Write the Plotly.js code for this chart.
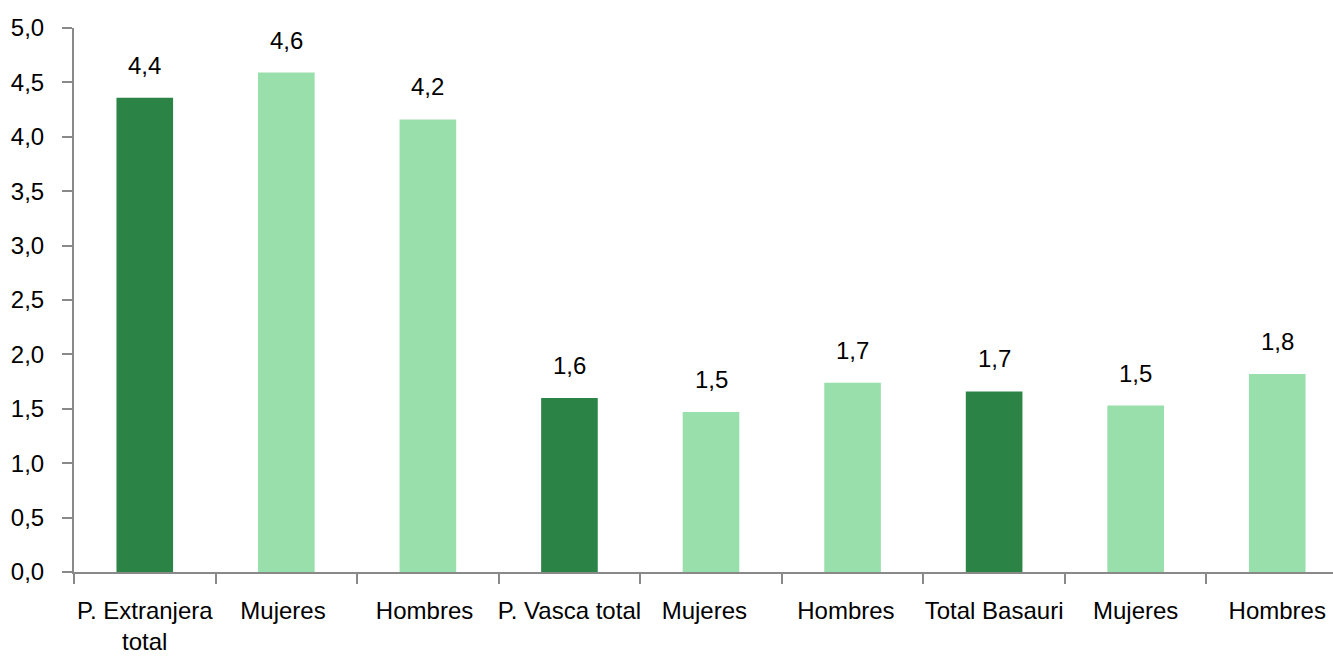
<!DOCTYPE html>
<html>
<head>
<meta charset="utf-8">
<script src="https://cdn.plot.ly/plotly-3.0.1.min.js"></script>
<style>html,body{margin:0;padding:0;background:#fff;overflow:hidden}#chart{width:1333px;height:661px}</style>
</head>
<body>
<div id="chart"></div>
<script>
const categories = ["P. Extranjera<br>total", "Mujeres ", "Hombres ", "P. Vasca total", "Mujeres  ", "Hombres  ", "Total Basauri", "Mujeres", "Hombres"];
const values = [4.36, 4.59, 4.16, 1.60, 1.47, 1.74, 1.66, 1.53, 1.82];
const groups = ["total", "sub", "sub", "total", "sub", "sub", "total", "sub", "sub"];
const yTicks = [0, 0.5, 1, 1.5, 2, 2.5, 3, 3.5, 4, 4.5, 5];

const DARK = "#2B8446", LIGHT = "#99DFAB";
const FONT = "'Liberation Sans', Arial, sans-serif";
const FS = 24;

const trace = {
  type: "bar",
  x: categories,
  y: values,
  width: 0.4,
  marker: {color: groups.map(g => g === "total" ? DARK : LIGHT)},
  hoverinfo: "skip"
};

const annotations = categories.map((c, i) => ({
  x: c, y: values[i], xref: "x", yref: "y",
  text: values[i].toFixed(1).replace(".", ","),
  showarrow: false, yanchor: "bottom", yshift: 17,
  font: {family: FONT, size: FS, color: "#000"}
}));

const layout = {
  width: 1333, height: 661,
  margin: {l: 74, r: 0, t: 28, b: 89},
  paper_bgcolor: "#fff", plot_bgcolor: "#fff",
  separators: ",.",
  showlegend: false,
  font: {family: FONT, size: FS, color: "#000"},
  xaxis: {
    type: "category",
    range: [-0.5, 8.394],
    showline: true, linecolor: "#898989", linewidth: 2,
    ticks: "outside", tickson: "boundaries", ticklen: 10, tickwidth: 2, tickcolor: "#898989",
    tickangle: 0,
    ticklabelstandoff: 16,
    showgrid: false, zeroline: false,
    tickfont: {family: FONT, size: FS, color: "#000"}
  },
  yaxis: {
    range: [0, 5],
    tickvals: yTicks,
    tickformat: ".1f",
    showline: true, linecolor: "#898989", linewidth: 2,
    ticks: "outside", ticklen: 10, tickwidth: 2, tickcolor: "#898989",
    ticklabelstandoff: 13,
    showgrid: false, zeroline: false,
    tickfont: {family: FONT, size: FS, color: "#000"}
  },
  annotations: annotations
};

Plotly.newPlot("chart", [trace], layout, {displayModeBar: false, staticPlot: true});
</script>
</body>
</html>
